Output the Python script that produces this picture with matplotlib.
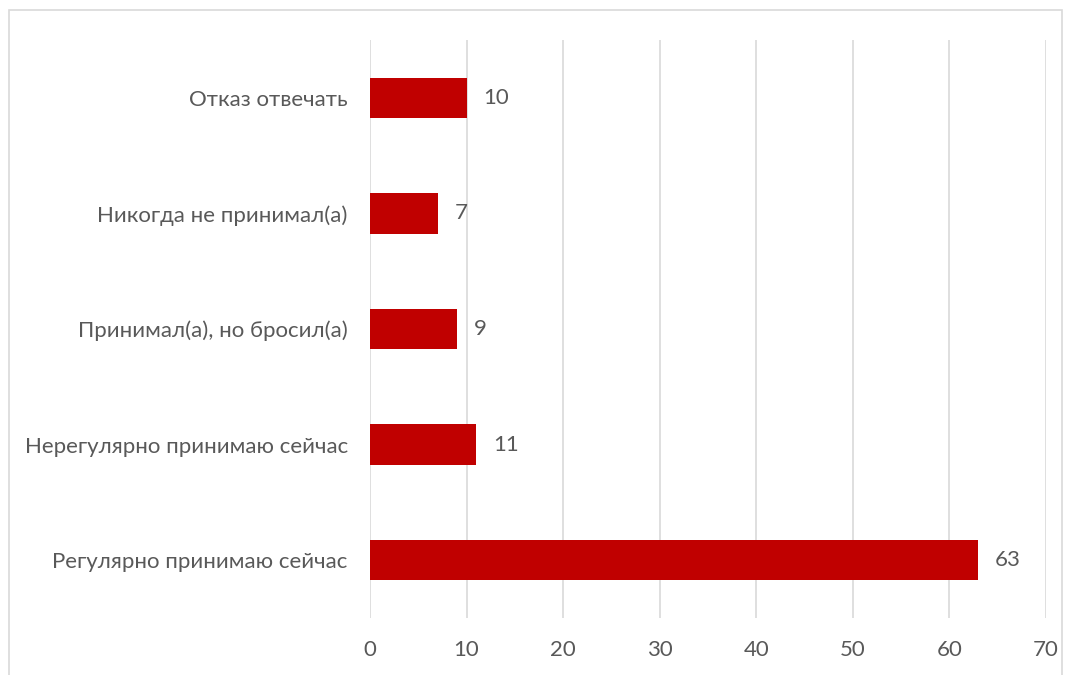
import matplotlib.pyplot as plt
from matplotlib.patches import Rectangle

categories = [
    "Регулярно принимаю сейчас",
    "Нерегулярно принимаю сейчас",
    "Принимал(а), но бросил(а)",
    "Никогда не принимал(а)",
    "Отказ отвечать",
]
values = [63, 11, 9, 7, 10]
xticks = [0, 10, 20, 30, 40, 50, 60, 70]

BAR = "#C00000"
TEXT = "#595959"
GRID = "#D9D9D9"
FS = 16

plt.rcParams["font.family"] = ["Lato", "DejaVu Sans"]

fig = plt.figure(figsize=(10.72, 6.75), dpi=100)
ax = fig.add_axes([370 / 1072, 1 - 618 / 675, 676 / 1072, 578 / 675])

pos = range(len(categories))
ax.barh(pos, values, height=0.35, color=BAR, zorder=3)
for p, v in zip(pos, values):
    ax.annotate(str(v), (v, p), xytext=(12, 0), textcoords="offset points",
                va="center", ha="left", fontsize=FS, color=TEXT)

ax.set_xlim(0, 70)
ax.set_ylim(-0.5, len(categories) - 0.5)
ax.set_xticks(xticks)
ax.set_yticks(list(pos))
ax.set_yticklabels(categories)
ax.tick_params(axis="both", length=0, labelsize=FS, labelcolor=TEXT)
ax.tick_params(axis="y", pad=16)
ax.tick_params(axis="x", pad=16)
ax.grid(axis="x", color=GRID, linewidth=1.2, zorder=0)
for s in ax.spines.values():
    s.set_visible(False)

fig.patches.append(Rectangle((9 / 1072, -0.01), 1053 / 1072, 1 - 10 / 675 + 0.01,
                             transform=fig.transFigure, fill=False,
                             edgecolor=GRID, linewidth=1.2))

fig.savefig("out.png", dpi=100)
